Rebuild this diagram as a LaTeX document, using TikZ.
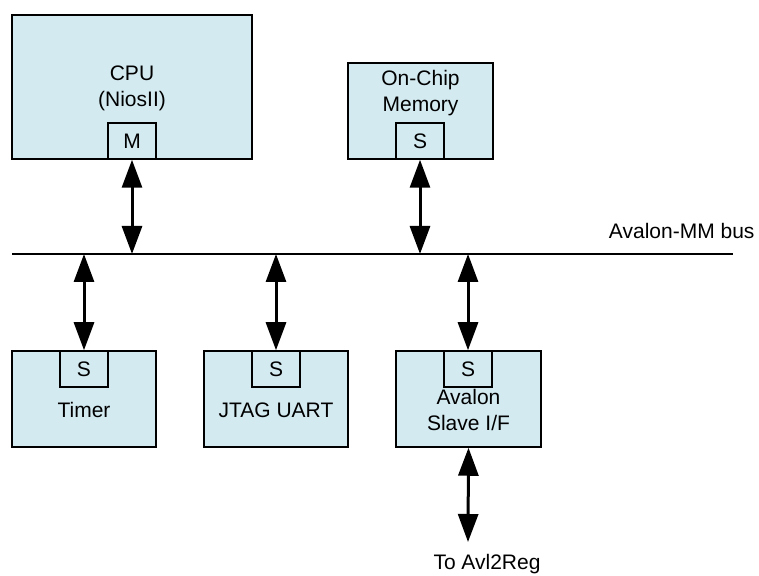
\documentclass[tikz,border=0pt]{standalone}
\usepackage{fontspec}
\setmainfont{Liberation Sans}
\usepackage{tikz}
\usetikzlibrary{arrows.meta}
\definecolor{blockFill}{RGB}{211,234,240}

\begin{document}
\begin{tikzpicture}[x=1pt,y=1pt]

          \tikzstyle{block} = [draw,fill=blockFill,line width=1.5pt,inner sep=0pt];
          \tikzstyle{port} = [block,minimum width=48,minimum height=36];
          \tikzstyle{blockText} = [align=center,font=\fontsize{21}{26}\selectfont];
          \tikzstyle{busLine} = [line width=2.8pt];
          \tikzstyle{busArrow} = [line width=3pt,{Triangle[length=28pt,width=20pt]}-{Triangle[length=28pt,width=20pt]}];

          \useasboundingbox (0,0) rectangle (759,575);

          % top blocks
          \node[block,minimum width=240,minimum height=144] (cpu) at (132,488) {};
          \node[port] (cpuM) at (132,434) {};
          \node[blockText] (cpuText) at (132,487) {CPU\\(NiosII)};
          \node[blockText] at (cpuM) {M};

          \node[block,minimum width=145,minimum height=96] (mem) at (420.5,464) {};
          \node[port] (memS) at (420,434) {};
          \node[blockText] (memText) at (420.5,482) {On-Chip\\Memory};
          \node[blockText] at (memS) {S};

          % bus
          \coordinate (busL) at (12,321);
          \coordinate (busR) at (733,321);
          \draw[busLine] (busL) -- (busR);
          \node[blockText,anchor=east] (busText) at (758,344) {Avalon-MM bus};
          \coordinate (busCpu) at (132,321);
          \coordinate (busMem) at (420,321);
          \coordinate (busTimer) at (84,321);
          \coordinate (busJtag) at (276,321);
          \coordinate (busAvl) at (468,321);

          % bottom blocks
          \node[block,minimum width=144,minimum height=96] (timer) at (84,176) {};
          \node[port] (timerS) at (84,206) {};
          \node[blockText] at (timerS) {S};
          \node[blockText] (timerText) at (84,165) {Timer};

          \node[block,minimum width=144,minimum height=96] (jtag) at (276,176) {};
          \node[port] (jtagS) at (276,206) {};
          \node[blockText] at (jtagS) {S};
          \node[blockText] (jtagText) at (276,165) {JTAG UART};

          \node[block,minimum width=145,minimum height=96] (avl) at (468.5,176) {};
          \node[port] (avlS) at (468,206) {};
          \node[blockText] at (avlS) {S};
          \node[blockText] (avlText) at (468.5,165) {Avalon\\Slave I/F};

          \coordinate (toReg) at (468,33);
          \node[blockText] (toRegText) at (487,11) {To Avl2Reg};

          % connections
          \draw[busArrow] (cpuM.south) -- (busCpu);
          \draw[busArrow] (memS.south) -- (busMem);
          \draw[busArrow] (busTimer) -- (timerS.north);
          \draw[busArrow] (busJtag) -- (jtagS.north);
          \draw[busArrow] (busAvl) -- (avlS.north);
          \draw[busArrow] (avl.south) -- (toReg);
        \end{tikzpicture}
\end{document}
